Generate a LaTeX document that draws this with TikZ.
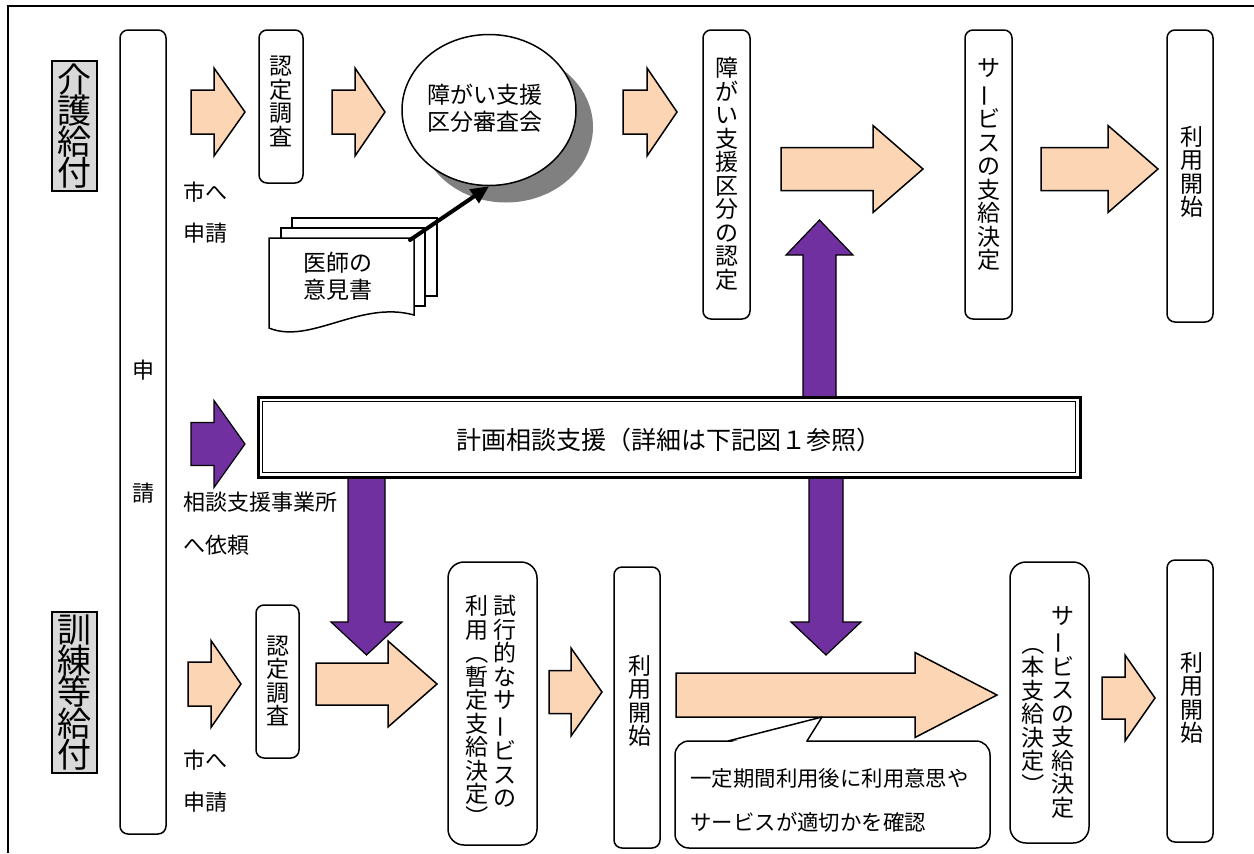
\documentclass[tikz,border=0pt]{standalone}
\usepackage{fontspec}
\setmainfont{Noto Sans CJK JP}
\usepackage{graphicx}
\usetikzlibrary{arrows.meta,shapes.geometric}
\definecolor{peach}{HTML}{FCD5B4}
\definecolor{purp}{HTML}{7030A0}
\definecolor{lgray}{HTML}{D9D9D9}
\definecolor{shgray}{HTML}{808080}
\newcommand\vbar{\rotatebox[origin=c]{90}{ー}}
\newcommand\vlp{\rotatebox[origin=c]{-90}{（}}
\newcommand\vrp{\rotatebox[origin=c]{-90}{）}}
\newcommand\RArr[7]{\draw[#1] ({#2},{#5-#6}) -- ({#3},{#5-#6}) -- ({#3},{#5-#7}) -- ({#4},{#5}) -- ({#3},{#5+#7}) -- ({#3},{#5+#6}) -- ({#2},{#5+#6}) -- cycle;}
\newcommand\VArr[7]{\draw[#1] ({#2-#6},{#3}) -- ({#2-#6},{#4}) -- ({#2-#7},{#4}) -- ({#2},{#5}) -- ({#2+#7},{#4}) -- ({#2+#6},{#4}) -- ({#2+#6},{#3}) -- cycle;}
\begin{document}
\begin{tikzpicture}[x=0.5pt,y=-0.5pt,
  rbox/.style={draw, line width=0.75pt, rounded corners=4pt, fill=white, inner sep=0pt},
  vt/.style={font=\fontsize{11.5}{11.75}\selectfont, align=center, inner sep=0pt},
  ht/.style={font=\fontsize{11}{13}\selectfont, inner sep=0pt, anchor=west},
  lab/.style={draw, line width=0.75pt, fill=lgray, inner sep=0pt, font={\fontsize{17}{15.6}\selectfont\lineskiplimit=-20pt}, align=center},
  pa/.style={fill=peach, draw=black, line width=0.75pt},
  pu/.style={fill=purp, draw=black, line width=0.6pt},
  tt/.style={font=\fontsize{11.5}{13.5}\selectfont, align=center, inner sep=0pt},
]
\useasboundingbox (0,0) rectangle (1254,853);
\draw[line width=0.75pt] (8,853) -- (8,6) -- (1254,6);

% side labels
\node[lab, minimum width=22.5pt, minimum height=65pt] (kaigo) at (74.5,126) {介\\護\\給\\付};
\node[lab, minimum width=22.5pt, minimum height=80.5pt] (kunren) at (74.5,692.5) {訓\\練\\等\\給\\付};

% application column
\node[rbox, minimum width=23pt, minimum height=402pt] (shinsei) at (143,432) {};
\node[ht, anchor=center] (shin) at (143,370) {申};
\node[ht, anchor=center] (sei) at (143,493) {請};

% top row arrows
\RArr{pa}{191}{214}{245}{112}{22}{44}
\RArr{pa}{332}{355}{385}{112}{22}{44}
\RArr{pa}{623}{647}{677}{112}{22}{44}
\RArr{pa}{781}{873}{923}{169}{21.5}{43.5}
\RArr{pa}{1041}{1108}{1158}{169}{21.5}{43.5}

\node[ht] (t1) at (183,192) {市へ};
\node[ht] (t2) at (183,233) {申請};

% top boxes
\node[rbox, minimum width=22pt, minimum height=76.5pt] (ct1) at (281,106.5) {};
\node[vt] (ct1t) at (281,101.5) {認\\定\\調\\査};
\node[rbox, minimum width=23.5pt, minimum height=144.5pt] (nin) at (726.5,174.5) {};
\node[vt] (nint) at (726.5,174) {障\\が\\い\\支\\援\\区\\分\\の\\認\\定};
\node[rbox, minimum width=23.5pt, minimum height=144.5pt] (kettei1) at (988.5,174.5) {};
\node[vt] (kettei1t) at (988.5,165) {サ\\\vbar\\ビ\\ス\\の\\支\\給\\決\\定};
\node[rbox, minimum width=23pt, minimum height=146pt] (start1) at (1190,176) {};
\node[vt] (start1t) at (1192,172) {利\\用\\開\\始};

% review board ellipse
\node[ellipse, fill=shgray, minimum width=87pt, minimum height=75.5pt, inner sep=0pt] (shadow) at (506,127) {};
\node[ellipse, draw, fill=white, line width=0.75pt, minimum width=87pt, minimum height=75.5pt, inner sep=0pt] (ell) at (489,110) {};
\node[tt] (ellt) at (485,108) {障がい支援\\区分審査会};

% doctor's opinion documents
\draw[line width=0.75pt, fill=white] (292,218) rectangle (437,296);
\draw[line width=0.75pt, fill=white] (281,228) rectangle (425,306);
\draw[line width=0.75pt, fill=white] (269,238) -- (414,238) -- (414,315) .. controls (360,300) and (310,345) .. (269,328) -- cycle;
\node[tt] (doc) at (338,276.5) {医師の\\意見書};
\coordinate (docc) at (410,240);
\draw[line width=2pt, line cap=round, -{Triangle[length=9pt,width=8pt]}] (docc) -- (ell.south);

% plan consultation
\VArr{pu}{819.5}{397}{255}{220}{16.5}{33.5}
\VArr{pu}{366.5}{477}{622}{655}{18.5}{35.5}
\VArr{pu}{826}{477}{622}{655}{17}{35}
\RArr{pu}{191}{214}{245}{444}{21.5}{43.5}
\node[draw, line width=1.5pt, fill=white, minimum width=411pt, minimum height=40pt, inner sep=0pt] (plan) at (669,437) {};
\draw[line width=0.6pt] (262.5,401.5) rectangle (1075.5,472.5);
\node[font=\fontsize{12.5}{14}\selectfont, inner sep=0pt] (plant) at (669,440) {計画相談支援（詳細は下記図１参照）};
\node[ht] (t3) at (183,502) {相談支援事業所};
\node[ht] (t4) at (183,545) {へ依頼};

% bottom row arrows
\RArr{pa}{188}{211}{241}{684}{22}{43.5}
\RArr{pa}{316}{388}{437}{684}{21}{43}
\RArr{pa}{549}{571}{602}{692}{21.5}{44}
\RArr{pa}{676}{915}{997}{695}{22}{42.5}
\RArr{pa}{1102}{1125}{1155}{698}{21}{43}

\node[ht] (t5) at (183,760) {市へ};
\node[ht] (t6) at (183,802) {申請};

% bottom boxes
\node[rbox, minimum width=21.5pt, minimum height=76.5pt] (ct2) at (277.5,681.5) {};
\node[vt] (ct2t) at (277.5,681) {認\\定\\調\\査};
\node[rbox, rounded corners=8pt, minimum width=44.5pt, minimum height=141.5pt] (trial) at (492.5,703.5) {};
\node[vt, anchor=north] (trialr) at (505,595) {試\\行\\的\\な\\サ\\\vbar\\ビ\\ス\\の};
\node[vt, anchor=north] (triall) at (477,595) {利\\用\\\vlp\\暫\\定\\支\\給\\決\\定\\\vrp};
\node[rbox, minimum width=23pt, minimum height=140.5pt] (start2) at (637,707.5) {};
\node[vt] (start2t) at (640,701) {利\\用\\開\\始};
\node[rbox, rounded corners=8pt, minimum width=39.5pt, minimum height=140.5pt] (kettei2) at (1049.5,702.5) {};
\node[vt] (kettei2r) at (1063,712.5) {サ\\\vbar\\ビ\\ス\\の\\支\\給\\決\\定};
\node[vt] (kettei2l) at (1033,714) {\vlp\\本\\支\\給\\決\\定\\\vrp};
\node[rbox, minimum width=23pt, minimum height=141pt] (start3) at (1190,701) {};
\node[vt] (start3t) at (1192,698) {利\\用\\開\\始};

% callout
\node[rbox, rounded corners=7pt, minimum width=157.5pt, minimum height=53.5pt] (callout) at (832.5,794.5) {};
\coordinate (ctip) at (822,717);
\fill[white] (729.5,742.5) -- (ctip) -- (805.5,742.5) -- cycle;
\draw[line width=0.75pt, line join=round] (728,741) -- (ctip) -- (807,741);
\node[font=\fontsize{10.7}{12}\selectfont, anchor=west, inner sep=0pt] (c1) at (690,778) {一定期間利用後に利用意思や};
\node[font=\fontsize{10.7}{12}\selectfont, anchor=west, inner sep=0pt] (c2) at (690,822) {サービスが適切かを確認};
\end{tikzpicture}
\end{document}
